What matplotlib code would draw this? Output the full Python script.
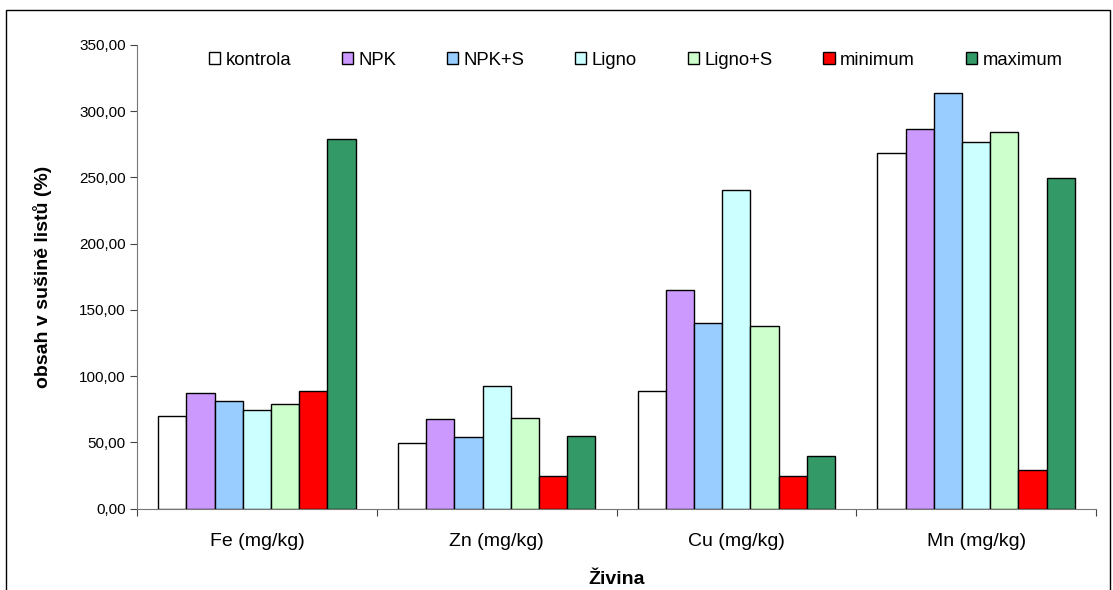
import numpy as np
import matplotlib.pyplot as plt
from matplotlib.patches import Rectangle
from matplotlib.ticker import FuncFormatter, FixedLocator

plt.rcParams['font.family'] = ['Liberation Sans', 'DejaVu Sans']

# --------------------------------------------------------------------------------/
# data
categories = ['Fe (mg/kg)', 'Zn (mg/kg)', 'Cu (mg/kg)', 'Mn (mg/kg)']
series     = ['kontrola', 'NPK', 'NPK+S', 'Ligno', 'Ligno+S', 'minimum', 'maximum']
kontrola = [70.0, 49.6, 89.0, 268.5]
npk      = [87.0, 67.8, 164.7, 286.8]
npk_s    = [81.3, 54.1, 140.0, 314.0]
ligno    = [74.5, 92.4, 240.2, 276.5]
ligno_s  = [78.8, 68.7, 137.7, 284.3]
minimum  = [89.0, 24.6, 24.6, 29.2]
maximum  = [279.0, 55.1, 39.5, 249.5]
values = [kontrola, npk, npk_s, ligno, ligno_s, minimum, maximum]
colors = ['#ffffff', '#cc99ff', '#99ccff', '#ccffff', '#ccffcc', '#ff0000', '#339966']
yticks = [0, 50, 100, 150, 200, 250, 300, 350]

# --------------------------------------------------------------------------------/
W, H = 1113, 590
x0, x1, ytop, ybot = 137, 1096, 45, 508.5
fig = plt.figure(figsize=(W/100, H/100), dpi=100)
ax = fig.add_axes([x0/W, (H-ybot)/H, (x1-x0)/W, (ybot-ytop)/H])

n = len(series)
bw = 1.0/(n + 1.5)
x = np.arange(len(categories))
for i, (name, vals, col) in enumerate(zip(series, values, colors)):
    off = (i - (n-1)/2.0)*bw
    ax.bar(x + 0.5 + off, vals, width=bw, color=col, edgecolor='black',
           linewidth=1.0, label=name, zorder=3)

ax.set_xlim(0, len(categories))
ax.set_ylim(0, 350)
ax.yaxis.set_major_locator(FixedLocator(yticks))
ax.yaxis.set_major_formatter(FuncFormatter(lambda v, p: f'{v:.2f}'.replace('.', ',')))
ax.xaxis.set_major_locator(FixedLocator(np.arange(len(categories)+1)))
ax.xaxis.set_minor_locator(FixedLocator(x + 0.5))
ax.xaxis.set_major_formatter(FuncFormatter(lambda v, p: ''))
ax.set_xticklabels(categories, minor=True)
ax.tick_params(axis='x', which='minor', length=0, pad=18, labelsize=14)
ax.tick_params(axis='x', which='major', length=5, direction='out', color='#444444')
ax.tick_params(axis='y', length=5, direction='out', labelsize=11, pad=3, color='#444444')

for s in ['top', 'right']:
    ax.spines[s].set_visible(False)
ax.spines['left'].set_color('#777777')
ax.spines['bottom'].set_color('#777777')

ax.set_ylabel('obsah v sušině listů (%)', fontsize=14, fontweight='bold', va='center')
ax.yaxis.set_label_coords((43-x0)/(x1-x0), 0.5)
ax.set_xlabel('Živina', fontsize=14, fontweight='bold', va='center')
ax.xaxis.set_label_coords(0.5, -(580-ybot)/(ybot-ytop))

leg = ax.legend(ncol=7, loc='upper left',
                bbox_to_anchor=((205-x0)/(x1-x0), 1.0 - 3/(ybot-ytop)),
                frameon=False, fontsize=13.3, handlelength=0.6, handleheight=0.6,
                handletextpad=0.3, columnspacing=2.75, borderaxespad=0, borderpad=0.2)
for h in leg.legend_handles:
    h.set_linewidth(1.0)

# chart area border
fig.patches.append(Rectangle((6/W, -0.01), (1110-6)/W, (H-10)/H + 0.01,
                             transform=fig.transFigure, fill=False,
                             edgecolor='black', linewidth=1.0))

fig.savefig('out.png', dpi=100)
# --------------------------------------------------------------------------------/
# eof
# --------------------------------------------------------------------------------/
